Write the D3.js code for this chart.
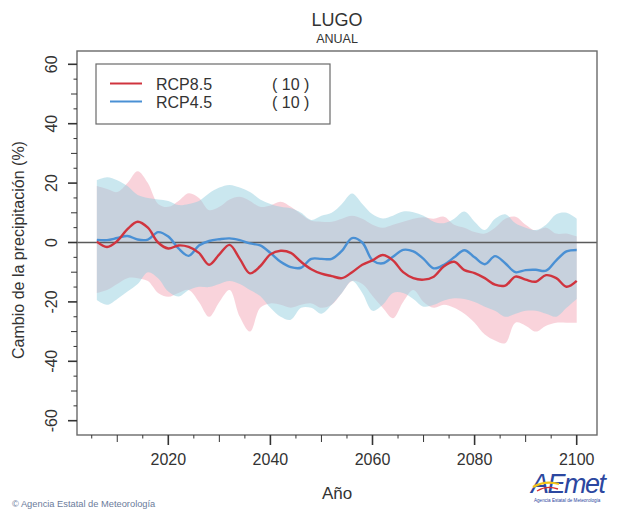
<!DOCTYPE html>
<html>
<head>
<meta charset="utf-8">
<script src="https://cdn.jsdelivr.net/npm/d3@7"></script>
<style>
  html, body { margin: 0; padding: 0; background: #fff; }
  svg { display: block; }
  text { font-family: "Liberation Sans", Arial, Helvetica, sans-serif; }
</style>
</head>
<body>
<svg id="chart" width="628" height="513"></svg>
<script>
// ---------------- DATA ----------------
const years = [2006,2008,2010,2012,2014,2016,2018,2020,2022,2024,2026,2028,2030,2032,2034,2036,2038,2040,2042,2044,2046,2048,2050,2052,2054,2056,2058,2060,2062,2064,2066,2068,2070,2072,2074,2076,2078,2080,2082,2084,2086,2088,2090,2092,2094,2096,2098,2100];

const rcp85Mean = [0.3,-1.5,0.5,4.5,7.0,5.0,0.0,-2.0,-1.0,-1.5,-3.5,-7.5,-4.0,-0.8,-5.5,-10.4,-8.0,-4.0,-2.8,-3.5,-6.5,-9.0,-10.5,-11.3,-12.0,-10.0,-7.5,-6.0,-4.2,-6.0,-10.0,-12.0,-12.5,-11.5,-8.0,-6.5,-9.3,-10.3,-12.0,-14.2,-14.5,-11.5,-12.5,-13.2,-11.0,-12.0,-14.9,-12.9];
const rcp45Mean = [0.9,0.8,1.5,2.2,1.0,1.0,3.5,2.0,-2.0,-4.5,-1.0,0.5,1.1,1.4,0.8,-0.3,-1.0,-3.5,-6.5,-8.3,-8.5,-5.5,-5.5,-5.5,-2.8,1.5,0.0,-6.0,-7.0,-4.8,-2.5,-3.0,-5.5,-8.7,-7.5,-5.0,-2.6,-5.0,-7.3,-4.6,-7.0,-10.0,-9.3,-9.2,-9.5,-6.0,-3.0,-2.5];

const rcp85Upper = [19,18,17,20,24,20,13,12,14,16.6,15,10.9,12,14.5,15.4,14,12,12.5,13.7,12,9.5,7.3,7,7,8,9,8,6,5,6,7,8,8.5,8,8.7,6,5,3.5,3,5,8,8.7,6,4,5,3,3,2];
const rcp85Lower = [-17,-16,-14,-12,-12,-13,-17,-18.3,-17,-16,-20,-25,-20,-16,-25,-30,-22,-20.5,-21,-22,-21,-20.5,-22,-21,-17,-13,-14,-18,-22,-25.5,-20,-16,-20,-22,-21,-22,-24,-27,-31,-33,-33.9,-27,-28,-30,-28,-27,-27,-27];
const rcp45Upper = [21,22,21,19,16,15,14.5,14,12.6,13,14,16.6,18.5,19.4,18.5,17,14.5,13,12,11.5,10,7.6,9,10,13,16.5,13,9.5,8.1,9,10.4,10.2,9,7,6.5,8,10.4,7,4.2,8,9.5,6.5,5,4.2,6,9.5,10,8];
const rcp45Lower = [-19.4,-21,-19,-16.5,-14,-10,-12,-16.5,-18.2,-16,-14.9,-15,-14,-13,-14,-16,-18,-22,-25,-26,-22,-22,-24,-21,-17,-13,-17,-23,-21,-17,-17,-19,-21.6,-21,-19.5,-18.8,-19,-20,-21.6,-23,-25,-24,-23,-23,-24,-25,-22,-19];

const yTickLabels = [-60,-40,-20,0,20,40,60];
const xTickLabels = [2020,2040,2060,2080,2100];
const seriesNames = ["RCP8.5","RCP4.5"];
const seriesCounts = ["( 10 )","( 10 )"];

// ---------------- LAYOUT ----------------
const svg = d3.select("#chart");
const box = {left: 77, right: 597, top: 51, bottom: 435};

const x = d3.scaleLinear().domain([2020, 2100]).range([168.3, 576.7]);
const y = d3.scaleLinear().domain([-60, 60]).range([420.7, 64.3]);

const colors = {
  red: "#d0343e",
  blue: "#4a90d4",
  pink: "rgb(240,150,170)",
  cyan: "rgb(150,208,224)"
};

// Bands
const bandData = (up, lo) => years.map((yr, i) => ({yr, up: up[i], lo: lo[i]}));
const area = d3.area()
  .x(d => x(d.yr))
  .y0(d => y(d.lo))
  .y1(d => y(d.up))
  .curve(d3.curveCatmullRom.alpha(0.5));

svg.append("path")
  .datum(bandData(rcp85Upper, rcp85Lower))
  .attr("d", area)
  .attr("fill", colors.pink)
  .attr("fill-opacity", 0.42);

svg.append("path")
  .datum(bandData(rcp45Upper, rcp45Lower))
  .attr("d", area)
  .attr("fill", colors.cyan)
  .attr("fill-opacity", 0.5);

// zero line
svg.append("line")
  .attr("x1", box.left).attr("x2", box.right)
  .attr("y1", y(0)).attr("y2", y(0))
  .attr("stroke", "#5a5a5a").attr("stroke-width", 1.6);

// mean lines
const line = d3.line()
  .x((d, i) => x(years[i]))
  .y(d => y(d))
  .curve(d3.curveCatmullRom.alpha(0.5));

svg.append("path").datum(rcp45Mean).attr("d", line)
  .attr("fill", "none").attr("stroke", colors.blue).attr("stroke-width", 2.4);
svg.append("path").datum(rcp85Mean).attr("d", line)
  .attr("fill", "none").attr("stroke", colors.red).attr("stroke-width", 2.4);

// frame
svg.append("rect")
  .attr("x", box.left).attr("y", box.top)
  .attr("width", box.right - box.left).attr("height", box.bottom - box.top)
  .attr("fill", "none").attr("stroke", "#6a6a6a").attr("stroke-width", 1.4);

// ---------------- AXES ----------------
const xAxisG = svg.append("g").attr("transform", `translate(0,${box.bottom})`);
const xTickVals = d3.range(2005, 2101, 5);
xAxisG.selectAll("line.t").data(xTickVals).join("line")
  .attr("x1", d => x(d)).attr("x2", d => x(d))
  .attr("y1", 0)
  .attr("y2", d => d % 20 === 0 ? 10 : (d % 10 === 0 ? 7 : 3.5))
  .attr("stroke", "#333").attr("stroke-width", d => d % 20 === 0 ? 1.6 : 1);
xAxisG.selectAll("text").data(xTickLabels).join("text")
  .attr("x", d => x(d)).attr("y", 30)
  .attr("text-anchor", "middle")
  .attr("font-size", 16).attr("fill", "#333")
  .text(d => d);

const yAxisG = svg.append("g").attr("transform", `translate(${box.left},0)`);
const yTickVals = d3.range(-60, 61, 5);
yAxisG.selectAll("line.t").data(yTickVals).join("line")
  .attr("x1", d => d % 20 === 0 ? -9 : (d % 10 === 0 ? -6 : -3.5)).attr("x2", 0)
  .attr("y1", d => y(d)).attr("y2", d => y(d))
  .attr("stroke", "#333").attr("stroke-width", d => d % 20 === 0 ? 1.6 : 1);
yAxisG.selectAll("text").data(yTickLabels).join("text")
  .attr("transform", d => `translate(${57 - box.left},${y(d)}) rotate(-90)`)
  .attr("text-anchor", "middle")
  .attr("font-size", 16).attr("fill", "#333")
  .text(d => d);

// axis titles
svg.append("text")
  .attr("transform", "translate(24,250) rotate(-90)")
  .attr("text-anchor", "middle")
  .attr("font-size", 16).attr("fill", "#333")
  .text("Cambio de la precipitación (%)");
svg.append("text")
  .attr("x", (box.left + box.right) / 2).attr("y", 499)
  .attr("text-anchor", "middle")
  .attr("font-size", 17).attr("fill", "#333")
  .text("Año");

// titles
svg.append("text")
  .attr("x", (box.left + box.right) / 2).attr("y", 26)
  .attr("text-anchor", "middle")
  .attr("font-size", 18).attr("fill", "#333")
  .text("LUGO");
svg.append("text")
  .attr("x", (box.left + box.right) / 2).attr("y", 43)
  .attr("text-anchor", "middle")
  .attr("font-size", 12.5).attr("fill", "#333")
  .text("ANUAL");

// ---------------- LEGEND ----------------
const leg = svg.append("g");
leg.append("rect")
  .attr("x", 96).attr("y", 64).attr("width", 234).attr("height", 60)
  .attr("fill", "#fff").attr("stroke", "#6a6a6a").attr("stroke-width", 1.2);
const legColors = [colors.red, colors.blue];
seriesNames.forEach((name, i) => {
  const ly = 83.5 + i * 18;
  leg.append("line")
    .attr("x1", 110).attr("x2", 142).attr("y1", ly).attr("y2", ly)
    .attr("stroke", legColors[i]).attr("stroke-width", 2);
  leg.append("text")
    .attr("x", 156).attr("y", ly + 6)
    .attr("font-size", 16).attr("fill", "#333").text(name);
  leg.append("text")
    .attr("x", 272).attr("y", ly + 6)
    .attr("font-size", 16).attr("fill", "#333").text(seriesCounts[i]);
});

// ---------------- CREDITS ----------------
svg.append("text")
  .attr("x", 12).attr("y", 507)
  .attr("font-size", 9.3).attr("fill", "#6b7b9b")
  .text("© Agencia Estatal de Meteorología");

// logo
const logo = svg.append("g").attr("transform", "translate(531,471)");
logo.append("text")
  .attr("x", 0).attr("y", 22)
  .attr("font-size", 27).attr("font-style", "italic")
  .attr("font-family", "'DejaVu Sans', sans-serif")
  .attr("font-weight", 300)
  .attr("fill", "#2c47a0")
  .attr("letter-spacing", -1.5)
  .text("AEmet");
logo.append("path")
  .attr("d", "M2,16 Q14,9 28,13")
  .attr("fill", "none").attr("stroke", "#f2c318").attr("stroke-width", 2.3);
logo.append("path")
  .attr("d", "M6,20 Q16,14 27,18")
  .attr("fill", "none").attr("stroke", "#d8302f").attr("stroke-width", 1.4);
logo.append("text")
  .attr("x", 3).attr("y", 31)
  .attr("font-size", 4.6).attr("fill", "#2c47a0")
  .text("Agencia Estatal de Meteorología");
</script>
</body>
</html>
